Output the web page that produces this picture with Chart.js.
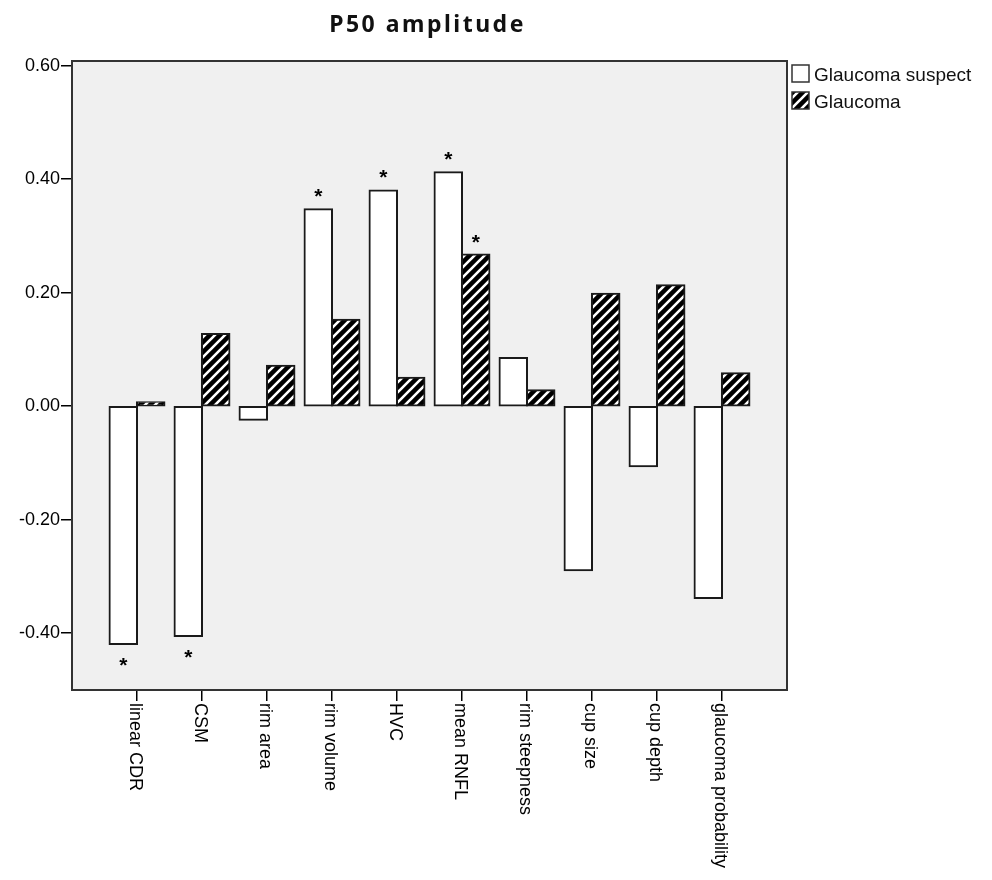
<!DOCTYPE html>
<html>
<head>
<meta charset="utf-8">
<script src="https://cdn.jsdelivr.net/npm/chart.js@4/dist/chart.umd.min.js"></script>
<style>
  html, body { margin: 0; padding: 0; background: #fff; }
  canvas { display: block; }
</style>
</head>
<body>
<canvas id="chart" width="992" height="880"></canvas>
<script>
const chartTitle = 'P50 amplitude';
const categories = ['linear CDR', 'CSM', 'rim area', 'rim volume', 'HVC', 'mean RNFL', 'rim steepness', 'cup size', 'cup depth', 'glaucoma probability'];
const seriesNames = ['Glaucoma suspect', 'Glaucoma'];
const suspectValues = [-0.419, -0.405, -0.024, 0.347, 0.380, 0.412, 0.085, -0.289, -0.106, -0.338];
const glaucomaValues = [0.007, 0.127, 0.071, 0.152, 0.050, 0.267, 0.028, 0.198, 0.213, 0.058];
const suspectStars = [true, true, false, true, true, true, false, false, false, false];
const glaucomaStars = [false, false, false, false, false, true, false, false, false, false];
const yTickValues = [-0.4, -0.2, 0, 0.2, 0.4, 0.6];

const FONT = '"Liberation Sans", Arial, sans-serif';

// blank slot at each end so the categories sit one step in from the frame
const labels = [''].concat(categories, ['']);
const pad = arr => [null].concat(arr, [null]);

function makeHatch() {
  const c = document.createElement('canvas');
  c.width = 10;
  c.height = 10;
  const g = c.getContext('2d');
  g.fillStyle = '#000';
  g.fillRect(0, 0, 10, 10);
  g.strokeStyle = '#fff';
  g.lineWidth = 2.6;
  g.beginPath();
  g.moveTo(-5, 5); g.lineTo(5, -5);
  g.moveTo(0, 10); g.lineTo(10, 0);
  g.moveTo(5, 15); g.lineTo(15, 5);
  g.stroke();
  return g.createPattern(c, 'repeat');
}
const hatch = makeHatch();

const decorPlugin = {
  id: 'decor',
  beforeDraw(chart) {
    const { ctx, chartArea: a } = chart;
    ctx.save();
    ctx.fillStyle = '#f0f0f0';
    ctx.fillRect(a.left, a.top, a.right - a.left, a.bottom - a.top);
    ctx.restore();
  },
  afterDraw(chart) {
    const { ctx, chartArea: a } = chart;
    ctx.save();
    // frame
    ctx.strokeStyle = '#333';
    ctx.lineWidth = 2;
    ctx.strokeRect(a.left, a.top, a.right - a.left, a.bottom - a.top);

    // title
    ctx.fillStyle = '#111';
    ctx.font = 'bold 23px "Noto Sans", sans-serif';
    ctx.letterSpacing = '2.5px';
    ctx.textAlign = 'center';
    ctx.textBaseline = 'alphabetic';
    ctx.fillText(chartTitle, (a.left + a.right) / 2 - 2, 32);
    ctx.letterSpacing = '0px';

    // x labels, rotated clockwise
    const xs = chart.scales.x;
    ctx.font = '18px ' + FONT;
    ctx.fillStyle = '#000';
    ctx.textAlign = 'left';
    ctx.textBaseline = 'middle';
    categories.forEach((name, i) => {
      const px = xs.getPixelForTick(i + 1);
      ctx.save();
      ctx.translate(px - 2, a.bottom + 13);
      ctx.rotate(Math.PI / 2);
      ctx.fillText(name, 0, 0);
      ctx.restore();
    });

    // significance stars
    ctx.font = 'bold 21px ' + FONT;
    ctx.textAlign = 'center';
    ctx.textBaseline = 'alphabetic';
    [suspectStars, glaucomaStars].forEach((stars, d) => {
      const meta = chart.getDatasetMeta(d);
      stars.forEach((on, i) => {
        if (!on) return;
        const bar = meta.data[i + 1];
        const v = chart.data.datasets[d].data[i + 1];
        const cy = v >= 0 ? bar.y - 18 : bar.y + 16;
        ctx.fillText('*', bar.x, cy + 12);
      });
    });

    // legend
    const lx = a.right + 5;
    const rows = [{ y: 65, fill: '#fff' }, { y: 92, fill: hatch }];
    ctx.font = '19px ' + FONT;
    ctx.textAlign = 'left';
    rows.forEach((r, i) => {
      ctx.fillStyle = r.fill;
      ctx.fillRect(lx, r.y, 17, 17);
      ctx.strokeStyle = '#333';
      ctx.lineWidth = 1.5;
      ctx.strokeRect(lx, r.y, 17, 17);
      ctx.fillStyle = '#111';
      ctx.fillText(seriesNames[i], lx + 22, r.y + 16);
    });
    ctx.restore();
  }
};

new Chart(document.getElementById('chart'), {
  type: 'bar',
  data: {
    labels,
    datasets: [
      {
        label: seriesNames[0],
        data: pad(suspectValues),
        backgroundColor: '#fff',
        borderColor: '#1a1a1a',
        borderWidth: 2,
        borderSkipped: false,
        inflateAmount: 1,
      },
      {
        label: seriesNames[1],
        data: pad(glaucomaValues),
        backgroundColor: hatch,
        borderColor: '#1a1a1a',
        borderWidth: 2,
        borderSkipped: false,
        inflateAmount: 1,
      },
    ],
  },
  options: {
    responsive: false,
    animation: false,
    categoryPercentage: 0.845,
    barPercentage: 1,
    layout: { padding: { top: 61, right: 205, left: 0, bottom: 0 } },
    plugins: {
      legend: { display: false },
      title: { display: false },
      tooltip: { enabled: false },
    },
    scales: {
      x: {
        type: 'category',
        offset: false,
        grid: {
          offset: false,
          drawOnChartArea: false,
          drawTicks: true,
          tickLength: 11,
          lineWidth: 1.5,
          tickColor: ctx => (ctx.index === 0 || ctx.index === labels.length - 1) ? 'rgba(0,0,0,0)' : '#000',
        },
        border: { display: false },
        ticks: { display: false },
        afterFit: s => { s.height = 190; },
      },
      y: {
        min: -0.5,
        max: 0.608,
        grid: {
          drawOnChartArea: false,
          drawTicks: true,
          tickLength: 11,
          lineWidth: 1.5,
          tickColor: '#000',
        },
        border: { display: false },
        afterBuildTicks: s => { s.ticks = yTickValues.map(v => ({ value: v })); },
        ticks: {
          color: '#000',
          padding: 1,
          font: { family: FONT, size: 18 },
          callback: v => v.toFixed(2),
        },
        afterFit: s => { s.width = 72; },
      },
    },
  },
  plugins: [decorPlugin],
});
</script>
</body>
</html>
